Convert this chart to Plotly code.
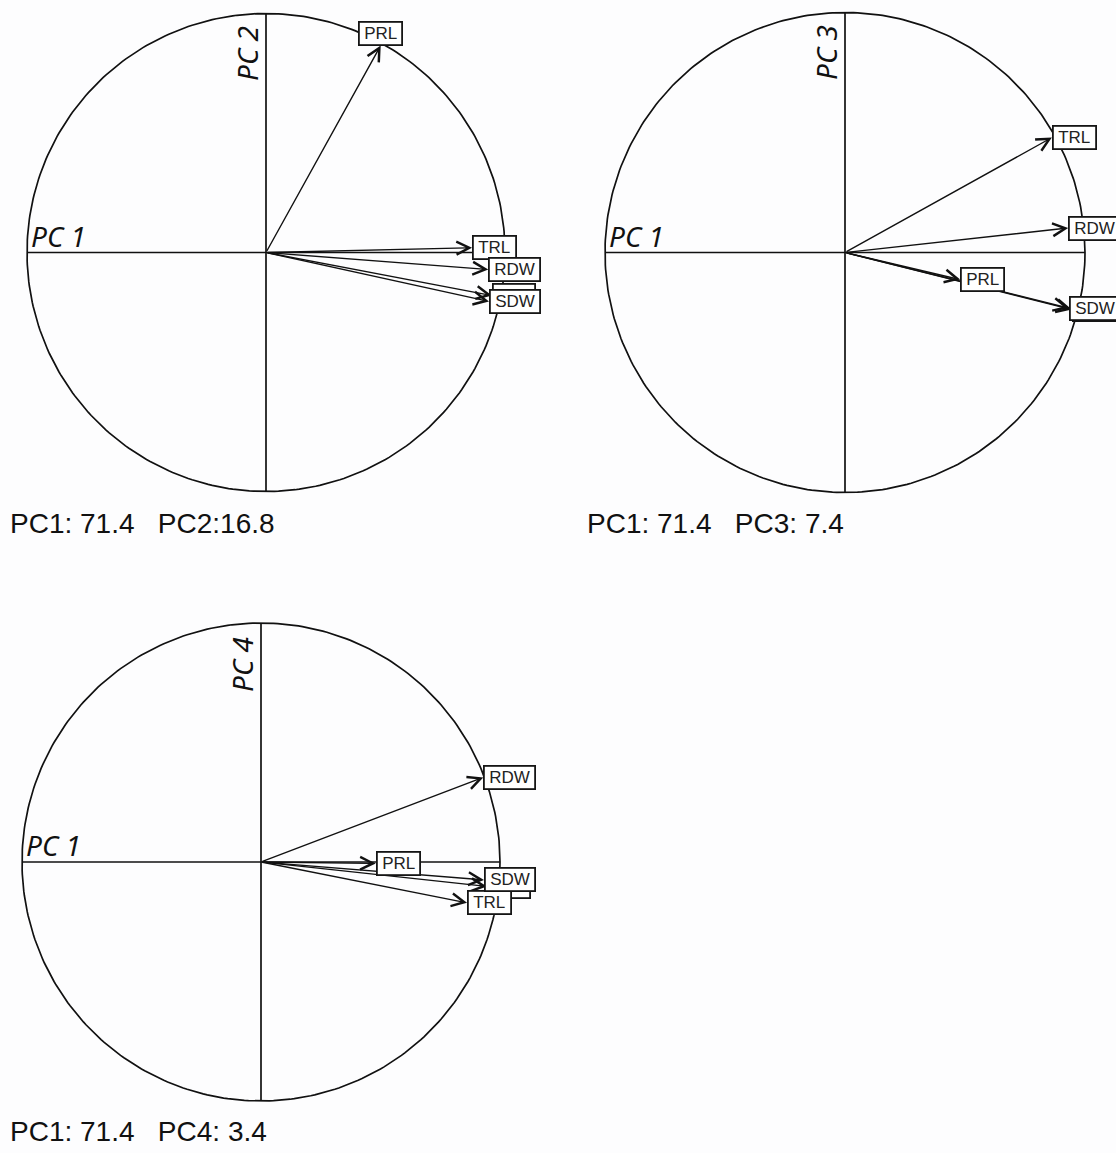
import numpy as np
import plotly.graph_objects as go

# ---------------- data ----------------
variables = ["TLA", "PRL", "TRL", "RDW", "SDW"]   # first one is hidden behind SDW in the original
pc1 = [0.945, 0.480, 0.862, 0.930, 0.933]
pc2 = [-0.180, 0.866, 0.020, -0.071, -0.205]
pc3 = [-0.238, -0.113, 0.479, 0.102, -0.232]
pc4 = [-0.102, -0.006, -0.171, 0.354, -0.075]

axis_titles = ["PC 1", "PC 2", "PC 3", "PC 4"]
captions = ["PC1: 71.4\u00a0\u00a0\u00a0PC2:16.8",
            "PC1: 71.4\u00a0\u00a0\u00a0PC3: 7.4",
            "PC1: 71.4\u00a0\u00a0\u00a0PC4: 3.4"]

# ---------------- layout geometry (pixels in the page) ----------------
W, H = 1116, 1153
panels = [
    dict(cx=266, cy=252.5, r=239, ys=pc2, ytitle=axis_titles[1], cap=captions[0], capx=8, capy=523),
    dict(cx=845, cy=252.5, r=240, ys=pc3, ytitle=axis_titles[2], cap=captions[1], capx=585, capy=523),
    dict(cx=261, cy=862, r=239, ys=pc4, ytitle=axis_titles[3], cap=captions[2], capx=8, capy=1131),
]
L = 1.03
INK = "#111111"

fig = go.Figure()
annotations = []
theta = np.linspace(0, 2 * np.pi, 361)

for i, p in enumerate(panels, start=1):
    xa = "x" if i == 1 else f"x{i}"
    ya = "y" if i == 1 else f"y{i}"
    xkey = "xaxis" if i == 1 else f"xaxis{i}"
    ykey = "yaxis" if i == 1 else f"yaxis{i}"
    cx, cy = p["cx"], p["cy"]
    half = L * p["r"]
    xd = [max(0.0, (cx - half) / W), min(1.0, (cx + half) / W)]
    yd = [max(0.0, 1 - (cy + half) / H), min(1.0, 1 - (cy - half) / H)]
    fig.update_layout({
        xkey: dict(domain=xd, range=[-L, L], visible=False, fixedrange=True, anchor=ya),
        ykey: dict(domain=yd, range=[-L, L], visible=False, fixedrange=True, anchor=xa),
    })
    # unit circle
    fig.add_trace(go.Scatter(x=np.cos(theta), y=np.sin(theta), mode="lines",
                             line=dict(color=INK, width=1.7), xaxis=xa, yaxis=ya,
                             hoverinfo="skip", showlegend=False))
    # axis lines
    fig.add_trace(go.Scatter(x=[-1, 1], y=[0, 0], mode="lines", line=dict(color=INK, width=1.7),
                             xaxis=xa, yaxis=ya, hoverinfo="skip", showlegend=False))
    fig.add_trace(go.Scatter(x=[0, 0], y=[-1, 1], mode="lines", line=dict(color=INK, width=1.7),
                             xaxis=xa, yaxis=ya, hoverinfo="skip", showlegend=False))
    # axis names
    annotations.append(dict(x=-1, y=0, xref=xa, yref=ya, text="<i>" + axis_titles[0] + "</i>",
                            showarrow=False, xanchor="left", yanchor="bottom", xshift=2, yshift=-4,
                            font=dict(family="Noto Sans", size=28, color=INK)))
    annotations.append(dict(x=0, y=1, xref=xa, yref=ya, text="<i>" + p["ytitle"] + "</i>",
                            showarrow=False, textangle=-90, xanchor="right", yanchor="top",
                            xshift=2, yshift=-11,
                            font=dict(family="Noto Sans", size=28, color=INK)))
    # arrows
    for name, vx, vy in zip(variables, pc1, p["ys"]):
        annotations.append(dict(x=vx, y=vy, ax=0, ay=0, xref=xa, yref=ya, axref=xa, ayref=ya,
                                text="", showarrow=True, arrowhead=5, arrowsize=1.8,
                                arrowwidth=1.4, arrowcolor=INK, standoff=0))
    # boxed labels
    for name, vx, vy in zip(variables, pc1, p["ys"]):
        if abs(vy) > abs(vx):
            xanc, yanc = "center", "bottom"
        else:
            xanc, yanc = "left", "middle"
        annotations.append(dict(x=vx, y=vy, xref=xa, yref=ya,
                                text="\u2009" + name + "\u2009", showarrow=False,
                                xanchor=xanc, yanchor=yanc,
                                font=dict(family="Liberation Sans", size=17, color="#222222"),
                                bgcolor="white", bordercolor="#151515", borderwidth=1.8,
                                borderpad=1))
    # caption
    annotations.append(dict(x=p["capx"] / W, y=1 - p["capy"] / H,
                            xref="paper", yref="paper",
                            text=p["cap"], showarrow=False, xanchor="left", yanchor="middle",
                            font=dict(family="Liberation Sans", size=28, color=INK)))

fig.update_layout(
    width=W, height=H,
    margin=dict(l=0, r=0, t=0, b=0),
    paper_bgcolor="#fdfdfe", plot_bgcolor="rgba(0,0,0,0)",
    showlegend=False,
    annotations=annotations,
)

fig.write_html("out.html",
               config={"displayModeBar": False},
               post_script="document.body.style.margin='0';document.body.style.overflow='hidden';")
